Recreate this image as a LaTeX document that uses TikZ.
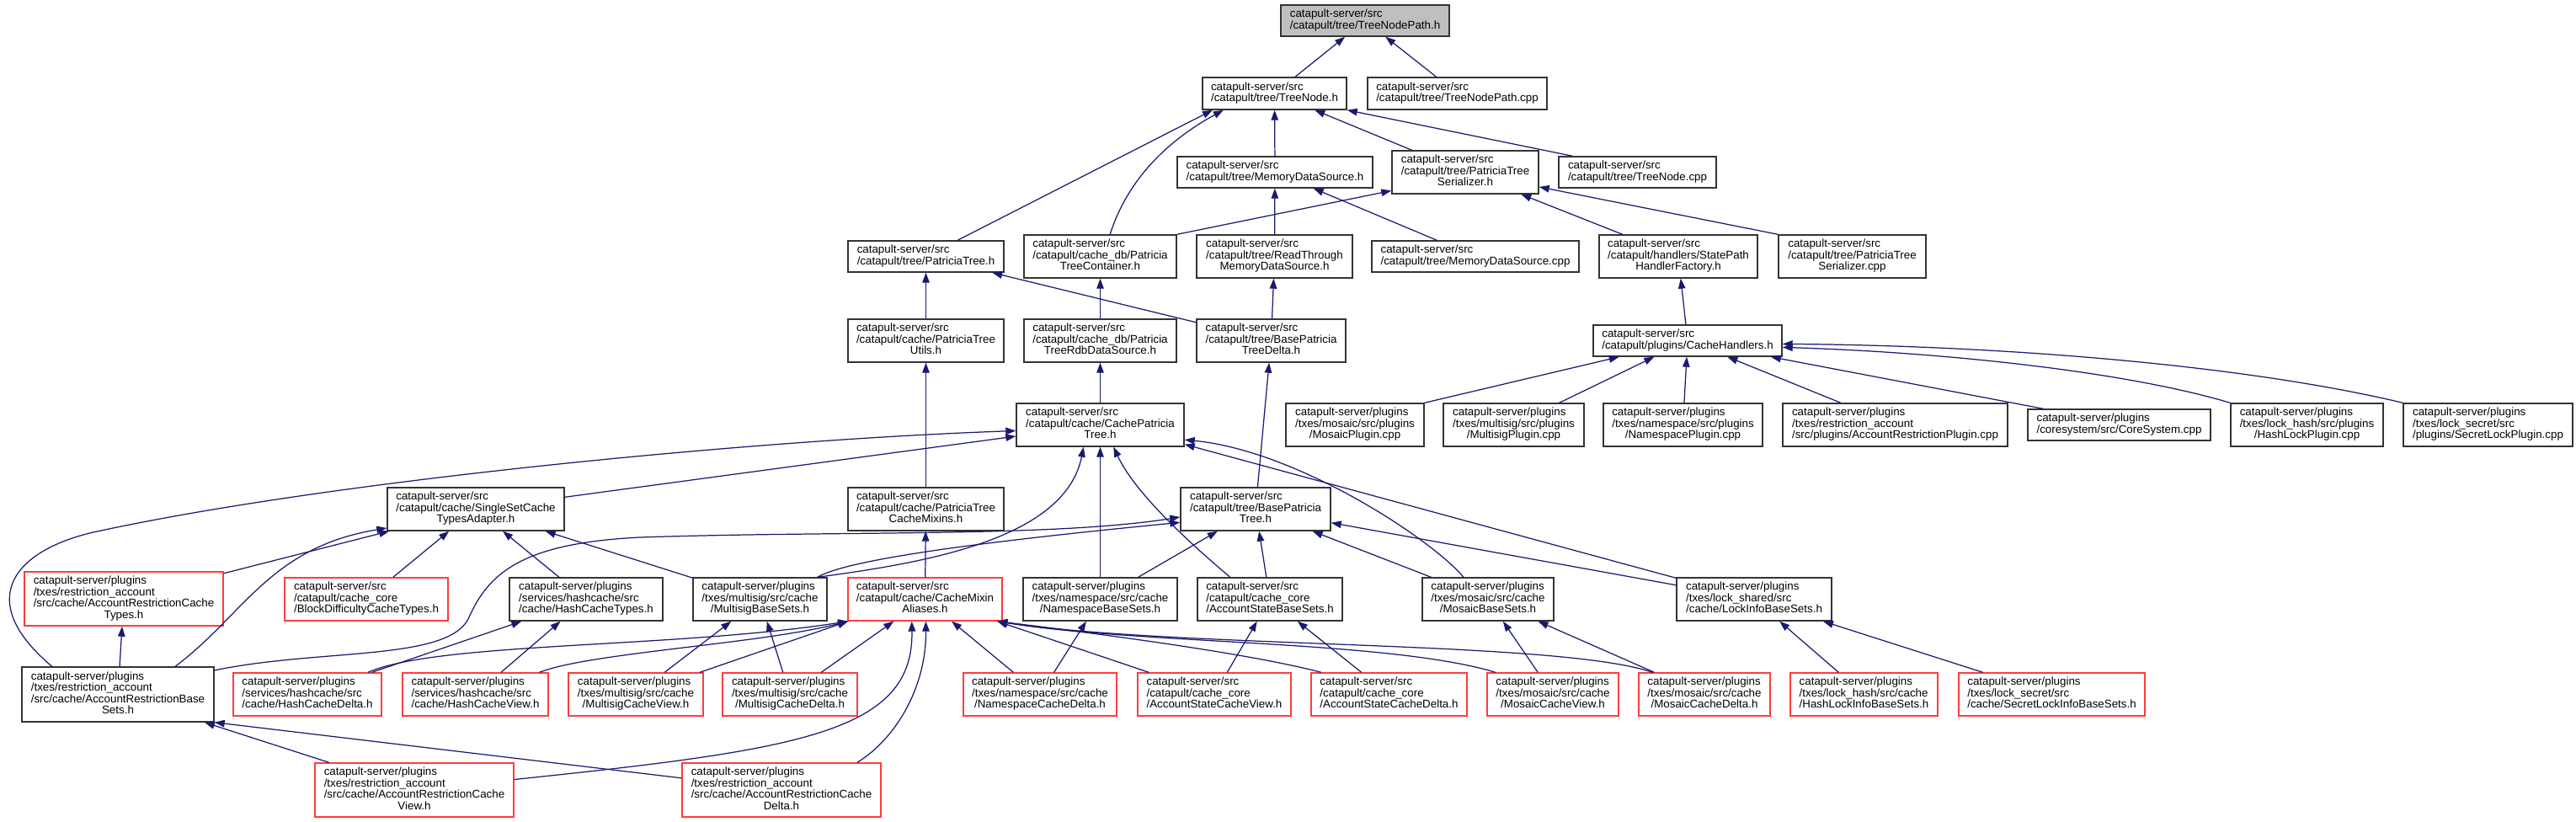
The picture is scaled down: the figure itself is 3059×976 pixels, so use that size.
\documentclass[tikz,border=0pt]{standalone}
\usepackage{fontspec}
\newfontfamily\doxsans{Liberation Sans}
\usetikzlibrary{arrows.meta}

\definecolor{doxedge}{RGB}{25,25,112}
\definecolor{doxred}{RGB}{255,60,60}
\definecolor{doxroot}{RGB}{191,191,191}

\newcommand{\doxfont}{\doxsans\fontsize{7.6pt}{7.4pt}\selectfont}
% first lines left aligned, last line centred
\newcommand{\flabel}[2]{\begin{tabular}{@{}l@{}}#1\\\multicolumn{1}{@{}c@{}}{#2}\end{tabular}}

\begin{document}
\begin{tikzpicture}[x=0.02cm,y=-0.02cm,
    file/.style={draw=black!80, line width=0.8pt, fill=white, inner sep=0pt, font=\doxfont},
    trunc/.style={file, draw=doxred},
    root/.style={file, fill=doxroot},
    sz/.style 2 args={minimum width=#1*0.02cm, minimum height=#2*0.02cm},
    dep/.style={draw=doxedge, line width=0.7pt, -{Triangle[length=0.24cm,width=0.17cm]}}]

    \path[use as bounding box, fill=white] (0,0) rectangle (3059,976);

    % root
    \node[root, sz={200}{37}] (tnp) at (1621,24.5) {\flabel{catapult-server/src}{/catapult/tree/TreeNodePath.h}};

    % tree level
    \node[file, sz={171}{38}] (tn) at (1513.5,111) {\flabel{catapult-server/src}{/catapult/tree/TreeNode.h}};
    \node[file, sz={213}{38}] (tnpcpp) at (1730.5,111) {\flabel{catapult-server/src}{/catapult/tree/TreeNodePath.cpp}};

    \node[file, sz={232}{37}] (mds) at (1514,204.5) {\flabel{catapult-server/src}{/catapult/tree/MemoryDataSource.h}};
    \node[file, sz={174}{51}] (pts) at (1740,204.5) {\flabel{catapult-server/src\\/catapult/tree/PatriciaTree}{Serializer.h}};
    \node[file, sz={187}{37}] (tncpp) at (1944.5,204.5) {\flabel{catapult-server/src}{/catapult/tree/TreeNode.cpp}};

    \node[file, sz={185}{37}] (pt) at (1099.5,304.5) {\flabel{catapult-server/src}{/catapult/tree/PatriciaTree.h}};
    \node[file, sz={181}{51}] (ptc) at (1306.5,304.5) {\flabel{catapult-server/src\\/catapult/cache\_db/Patricia}{TreeContainer.h}};
    \node[file, sz={185}{51}] (rtmds) at (1513.5,304.5) {\flabel{catapult-server/src\\/catapult/tree/ReadThrough}{MemoryDataSource.h}};
    \node[file, sz={246}{37}] (mdscpp) at (1752,304.5) {\flabel{catapult-server/src}{/catapult/tree/MemoryDataSource.cpp}};
    \node[file, sz={188}{51}] (sphf) at (1993,304.5) {\flabel{catapult-server/src\\/catapult/handlers/StatePath}{HandlerFactory.h}};
    \node[file, sz={175}{51}] (ptscpp) at (2199.5,304.5) {\flabel{catapult-server/src\\/catapult/tree/PatriciaTree}{Serializer.cpp}};

    \node[file, sz={185}{51}] (ptu) at (1099.5,404.5) {\flabel{catapult-server/src\\/catapult/cache/PatriciaTree}{Utils.h}};
    \node[file, sz={181}{51}] (ptrdb) at (1306.5,404.5) {\flabel{catapult-server/src\\/catapult/cache\_db/Patricia}{TreeRdbDataSource.h}};
    \node[file, sz={177}{51}] (bptd) at (1509.5,404.5) {\flabel{catapult-server/src\\/catapult/tree/BasePatricia}{TreeDelta.h}};
    \node[file, sz={224}{37}] (ch) at (2004,404.5) {\flabel{catapult-server/src}{/catapult/plugins/CacheHandlers.h}};

    % cache and plugins
    \node[file, sz={199}{51}] (cpt) at (1306.5,504.5) {\flabel{catapult-server/src\\/catapult/cache/CachePatricia}{Tree.h}};
    \node[file, sz={164}{51}] (mosp) at (1609,504.5) {\flabel{catapult-server/plugins\\/txes/mosaic/src/plugins}{/MosaicPlugin.cpp}};
    \node[file, sz={167}{51}] (msigp) at (1797.5,504.5) {\flabel{catapult-server/plugins\\/txes/multisig/src/plugins}{/MultisigPlugin.cpp}};
    \node[file, sz={189}{51}] (nsp) at (1998.5,504.5) {\flabel{catapult-server/plugins\\/txes/namespace/src/plugins}{/NamespacePlugin.cpp}};
    \node[file, sz={267}{51}] (arp) at (2250.5,504.5) {\flabel{catapult-server/plugins\\/txes/restriction\_account}{/src/plugins/AccountRestrictionPlugin.cpp}};
    \node[file, sz={217}{37}] (csys) at (2516.5,504.5) {\flabel{catapult-server/plugins}{/coresystem/src/CoreSystem.cpp}};
    \node[file, sz={181}{51}] (hlp) at (2739.5,504.5) {\flabel{catapult-server/plugins\\/txes/lock\_hash/src/plugins}{/HashLockPlugin.cpp}};
    \node[file, sz={201}{51}] (slp) at (2954.5,504.5) {\flabel{catapult-server/plugins\\/txes/lock\_secret/src}{/plugins/SecretLockPlugin.cpp}};

    \node[file, sz={210}{51}] (ssc) at (565,604.5) {\flabel{catapult-server/src\\/catapult/cache/SingleSetCache}{TypesAdapter.h}};
    \node[file, sz={185}{51}] (ptcm) at (1099.5,604.5) {\flabel{catapult-server/src\\/catapult/cache/PatriciaTree}{CacheMixins.h}};
    \node[file, sz={178}{51}] (bpt) at (1491,604.5) {\flabel{catapult-server/src\\/catapult/tree/BasePatricia}{Tree.h}};

    % base sets
    \node[trunc, sz={236}{64}] (arct) at (147,711) {\flabel{catapult-server/plugins\\/txes/restriction\_account\\/src/cache/AccountRestrictionCache}{Types.h}};
    \node[trunc, sz={194}{51}] (bdct) at (435,711.5) {\flabel{catapult-server/src\\/catapult/cache\_core}{/BlockDifficultyCacheTypes.h}};
    \node[file, sz={182}{51}] (hct) at (696,711.5) {\flabel{catapult-server/plugins\\/services/hashcache/src}{/cache/HashCacheTypes.h}};
    \node[file, sz={159}{51}] (msbs) at (902.5,711.5) {\flabel{catapult-server/plugins\\/txes/multisig/src/cache}{/MultisigBaseSets.h}};
    \node[trunc, sz={183}{51}] (cma) at (1098.5,711.5) {\flabel{catapult-server/src\\/catapult/cache/CacheMixin}{Aliases.h}};
    \node[file, sz={183}{51}] (nsbs) at (1306.5,711.5) {\flabel{catapult-server/plugins\\/txes/namespace/src/cache}{/NamespaceBaseSets.h}};
    \node[file, sz={172}{51}] (asbs) at (1508,711.5) {\flabel{catapult-server/src\\/catapult/cache\_core}{/AccountStateBaseSets.h}};
    \node[file, sz={156}{51}] (mosbs) at (1767,711.5) {\flabel{catapult-server/plugins\\/txes/mosaic/src/cache}{/MosaicBaseSets.h}};
    \node[file, sz={184}{51}] (libs) at (2083,711.5) {\flabel{catapult-server/plugins\\/txes/lock\_shared/src}{/cache/LockInfoBaseSets.h}};

    % views and deltas
    \node[file, sz={228}{65}] (arbs) at (140,824.5) {\flabel{catapult-server/plugins\\/txes/restriction\_account\\/src/cache/AccountRestrictionBase}{Sets.h}};
    \node[trunc, sz={176}{51}] (hcd) at (365,824.5) {\flabel{catapult-server/plugins\\/services/hashcache/src}{/cache/HashCacheDelta.h}};
    \node[trunc, sz={173}{51}] (hcv) at (564.5,824.5) {\flabel{catapult-server/plugins\\/services/hashcache/src}{/cache/HashCacheView.h}};
    \node[trunc, sz={160}{51}] (mscv) at (755,824.5) {\flabel{catapult-server/plugins\\/txes/multisig/src/cache}{/MultisigCacheView.h}};
    \node[trunc, sz={160}{51}] (mscd) at (938,824.5) {\flabel{catapult-server/plugins\\/txes/multisig/src/cache}{/MultisigCacheDelta.h}};
    \node[trunc, sz={182}{51}] (nscd) at (1235,824.5) {\flabel{catapult-server/plugins\\/txes/namespace/src/cache}{/NamespaceCacheDelta.h}};
    \node[trunc, sz={182}{51}] (ascv) at (1442,824.5) {\flabel{catapult-server/src\\/catapult/cache\_core}{/AccountStateCacheView.h}};
    \node[trunc, sz={185}{51}] (ascd) at (1649.5,824.5) {\flabel{catapult-server/src\\/catapult/cache\_core}{/AccountStateCacheDelta.h}};
    \node[trunc, sz={156}{51}] (moscv) at (1844,824.5) {\flabel{catapult-server/plugins\\/txes/mosaic/src/cache}{/MosaicCacheView.h}};
    \node[trunc, sz={156}{51}] (moscd) at (2024,824.5) {\flabel{catapult-server/plugins\\/txes/mosaic/src/cache}{/MosaicCacheDelta.h}};
    \node[trunc, sz={175}{51}] (hlibs) at (2213.5,824.5) {\flabel{catapult-server/plugins\\/txes/lock\_hash/src/cache}{/HashLockInfoBaseSets.h}};
    \node[trunc, sz={221}{51}] (slibs) at (2436.5,824.5) {\flabel{catapult-server/plugins\\/txes/lock\_secret/src}{/cache/SecretLockInfoBaseSets.h}};

    \node[trunc, sz={236}{64}] (arcv) at (492,938) {\flabel{catapult-server/plugins\\/txes/restriction\_account\\/src/cache/AccountRestrictionCache}{View.h}};
    \node[trunc, sz={236}{64}] (arcd) at (928,938) {\flabel{catapult-server/plugins\\/txes/restriction\_account\\/src/cache/AccountRestrictionCache}{Delta.h}};

    % straight includes
    \foreach \a/\b in {tn/tnp, tnpcpp/tnp, mds/tn, pts/tn, sphf/pts, rtmds/mds, mdscpp/mds,
        ptu/pt, bptd/pt, ptrdb/ptc, bptd/rtmds, ch/sphf, cpt/ptrdb, bpt/bptd, ptcm/ptu,
        msigp/ch, nsp/ch, arp/ch, ssc/cpt, nsbs/cpt, nsbs/bpt, asbs/bpt, mosbs/bpt,
        libs/bpt, cma/ptcm, arct/ssc, bdct/ssc, hct/ssc, msbs/ssc, arbs/arct, hcd/hct,
        hcv/hct, mscv/msbs, mscd/msbs, mscd/cma, nscd/cma, arcv/arbs, nscd/nsbs,
        ascv/asbs, ascd/asbs, moscv/mosbs, moscd/mosbs, hlibs/libs, slibs/libs}
        \draw[dep] (\a) -- (\b);

    % straight, fixed anchors
    \draw[dep] (pt) -- (tn.-165);
    \draw[dep] (tncpp.166) -- (tn.south east);
    \draw[dep] (ptc.north east) -- (pts.194);
    \draw[dep] (ptscpp.north west) -- (pts);
    \draw[dep] (mosp.north east) -- (ch);
    \draw[dep] (csys.168) -- (ch.-11);
    \draw[dep] (libs) -- (cpt.-13);
    \draw[dep] (mscv) -- (cma.-164);
    \draw[dep] (ascv) -- (cma.-17);
    \draw[dep] (arcd) -- (arbs.south east);

    % curved includes
    \draw[dep] (ptc.66) .. controls (1340,210) and (1390,165) .. (tn.-162);
    \draw[dep] (hlp.north west) .. controls (2520,440) and (2300,418) .. (ch.-4);
    \draw[dep] (slp.north west) .. controls (2650,430) and (2350,410) .. (ch.-2);
    \draw[dep] (arbs.157) .. controls (-35,710) and (20,650) .. (120,630)
        .. controls (400,570) and (900,522) .. (cpt.184);
    \draw[dep] (msbs.21) .. controls (1100,668) and (1265,640) .. (cpt.-127);
    \draw[dep] (asbs.151) .. controls (1425,655) and (1350,590) .. (cpt.-59);
    \draw[dep] (mosbs.138) .. controls (1700,640) and (1540,535) .. (cpt.-10);
    \draw[dep] (arbs.14) .. controls (380,770) and (530,785) .. (556,735)
        .. controls (580,680) and (620,645) .. (760,638)
        .. controls (1000,630) and (1250,638) .. (bpt.186);
    \draw[dep] (msbs.21) .. controls (1010,662) and (1200,640) .. (bpt.190);
    \draw[dep] (arbs.26) .. controls (290,730) and (320,650) .. (ssc.192);
    \draw[dep] (hcd.20) .. controls (520,762) and (800,770) .. (cma.-164);
    \draw[dep] (hcv.19) .. controls (700,775) and (900,765) .. (cma.-164);
    \draw[dep] (arcv.6) .. controls (950,890) and (1085,870) .. (cma.-121);
    \draw[dep] (arcd.20) .. controls (1060,880) and (1100,820) .. (cma.-88);
    \draw[dep] (ascd.162) .. controls (1480,775) and (1300,752) .. (cma.-17);
    \draw[dep] (moscv.159) .. controls (1650,760) and (1350,765) .. (cma.-17);
    \draw[dep] (moscd.157) .. controls (1850,760) and (1400,770) .. (cma.-17);
\end{tikzpicture}
\end{document}
